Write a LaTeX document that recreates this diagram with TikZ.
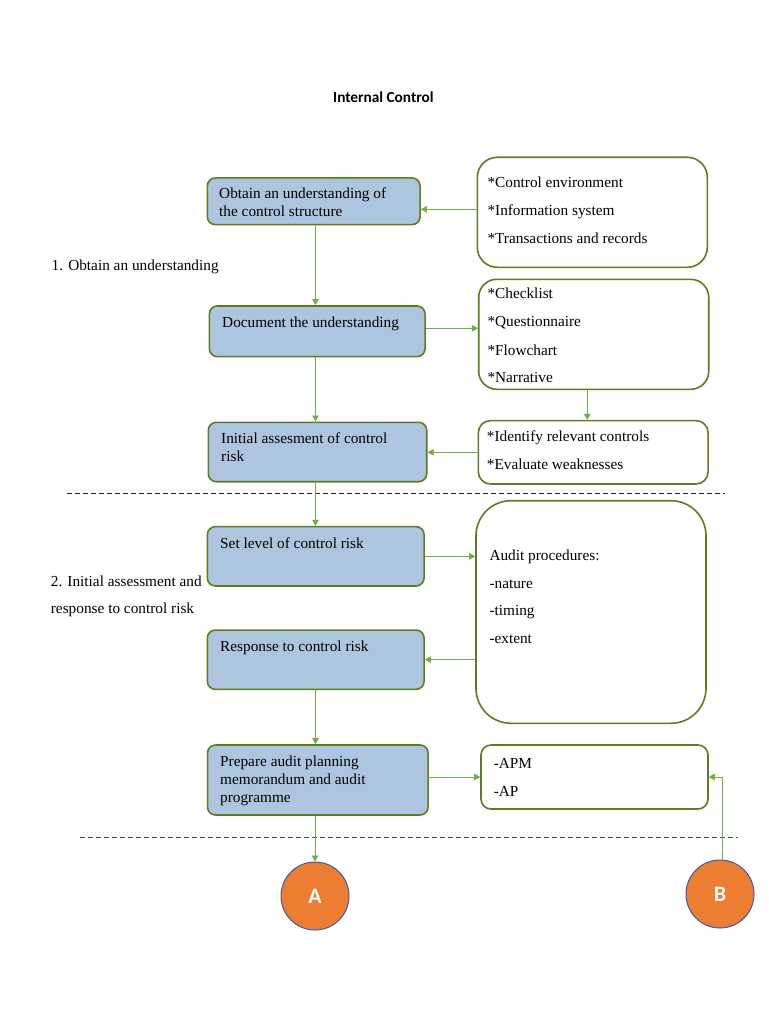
\documentclass[tikz,border=0pt]{standalone}
\usepackage{fontspec}
\setmainfont{Liberation Serif}
\newfontfamily\calibri{Carlito}
\usetikzlibrary{arrows.meta}
\definecolor{boxblue}{HTML}{ADC5DE}
\definecolor{boxedge}{HTML}{5E7D1E}
\definecolor{arrowgreen}{HTML}{70AD47}
\definecolor{circorange}{HTML}{ED7D31}
\definecolor{circedge}{HTML}{3A5CA8}
\begin{document}
\begin{tikzpicture}[x=1pt,y=-1pt,
  bluebox/.style={draw=boxedge, fill=boxblue, line width=1.6pt, rounded corners=8pt, inner sep=0pt},
  whitebox/.style={draw=boxedge, fill=white, line width=1.6pt, inner sep=0pt},
  txt/.style={anchor=base west, inner sep=0pt, yshift=-1pt, font=\fontsize{15.3}{18}\selectfont},
  conn/.style={draw=arrowgreen, line width=0.9pt, -{Triangle[length=6pt,width=6.5pt]}},
  circ/.style={circle, fill=circorange, draw=circedge, line width=1pt, minimum size=68pt, inner sep=0pt, text=white, font=\calibri\bfseries\fontsize{22}{24}\selectfont},
  sep/.style={dash pattern=on 5pt off 3pt, line width=0.8pt}
]
\useasboundingbox (0,0) rectangle (768,1024);
\fill[white] (0,0) rectangle (768,1024);

% title
\node[anchor=base west, inner sep=0pt, font=\calibri\bfseries\fontsize{15.3}{18}\selectfont] (title) at (333,102.5) {Internal Control};

% left section labels
\node[txt] (sec1) at (51.5,269.3) {1. Obtain an understanding};
\node[txt] (sec2a) at (50.7,585) {2. Initial assessment and};
\node[txt] (sec2b) at (50.7,612.7) {response to control risk};

% blue boxes
\node[bluebox, minimum width=212.7pt, minimum height=46.7pt] (b1) at (313.7,201.3) {};
\node[bluebox, minimum width=215.7pt, minimum height=50.7pt] (b2) at (317.2,331.3) {};
\node[bluebox, minimum width=218.4pt, minimum height=59.4pt] (b3) at (317.5,452) {};
\node[bluebox, minimum width=216.7pt, minimum height=59.3pt] (b4) at (315.7,556.3) {};
\node[bluebox, minimum width=216.7pt, minimum height=59.3pt] (b5) at (315.7,659.7) {};
\node[bluebox, minimum width=220.5pt, minimum height=70pt] (b6) at (317.8,780) {};

\node[txt] (b1t1) at (219,197.5) {Obtain an understanding of};
\node[txt] (b1t2) at (219,215.5) {the control structure};
\node[txt] (b2t1) at (222,326.7) {Document the understanding};
\node[txt] (b3t1) at (221,442.7) {Initial assesment of control};
\node[txt] (b3t2) at (221,460.7) {risk};
\node[txt] (b4t1) at (220,547.3) {Set level of control risk};
\node[txt] (b5t1) at (220,650.7) {Response to control risk};
\node[txt] (b6t1) at (220,765.5) {Prepare audit planning};
\node[txt] (b6t2) at (220,783.5) {memorandum and audit};
\node[txt] (b6t3) at (220,801.5) {programme};

% white boxes
\node[whitebox, rounded corners=20pt, minimum width=230pt, minimum height=110pt] (r1) at (592.3,212.3) {};
\node[whitebox, rounded corners=18pt, minimum width=230pt, minimum height=110pt] (r2) at (593.7,334.3) {};
\node[whitebox, rounded corners=12pt, minimum width=229.7pt, minimum height=63.3pt] (r3) at (593.2,452.3) {};
\node[whitebox, rounded corners=35pt, minimum width=230pt, minimum height=222.6pt] (r4) at (591,612) {};
\node[whitebox, rounded corners=10pt, minimum width=227pt, minimum height=64pt] (r5) at (594.5,777) {};

\node[txt] (r1t1) at (487.3,186.7) {*Control environment};
\node[txt] (r1t2) at (487.3,214.3) {*Information system};
\node[txt] (r1t3) at (487.3,242.7) {*Transactions and records};
\node[txt] (r2t1) at (487.3,297.7) {*Checklist};
\node[txt] (r2t2) at (487.3,325.7) {*Questionnaire};
\node[txt] (r2t3) at (487.3,354) {*Flowchart};
\node[txt] (r2t4) at (487.3,381.7) {*Narrative};
\node[txt] (r3t1) at (486.7,440.7) {*Identify relevant controls};
\node[txt] (r3t2) at (486.7,468.3) {*Evaluate weaknesses};
\node[txt] (r4t1) at (489.3,559.3) {Audit procedures:};
\node[txt] (r4t2) at (489.3,587) {-nature};
\node[txt] (r4t3) at (489.3,614.7) {-timing};
\node[txt] (r4t4) at (489.3,642.3) {-extent};
\node[txt] (r5t1) at (493.6,767.3) {-APM};
\node[txt] (r5t2) at (493.6,795.7) {-AP};

% circles
\node[circ] (A) at (315,896) {A};
\node[circ] (B) at (720,894) {B};

% separators
\draw[sep, draw=black!85] (67,493.3) -- (725,493.3);
\draw[sep, draw=black!70] (80,837.5) -- (738,837.5);

% connectors
\coordinate (spine) at (315.5,0);
\coordinate (rspine) at (587.3,0);
\draw[conn] ([yshift=3pt]r1.west) -- ([yshift=3pt]r1.west -| b1.east);
\draw[conn] (b1.south -| spine) -- (b2.north -| spine);
\draw[conn] ([yshift=3pt]b2.east) -- ([yshift=3pt]b2.east -| r2.west);
\draw[conn] (b2.south -| spine) -- (b3.north -| spine);
\draw[conn] (r2.south -| rspine) -- (r3.north -| rspine);
\draw[conn] (r3.west) -- (r3.west -| b3.east);
\draw[conn] (b3.south -| spine) -- (b4.north -| spine);
\draw[conn] (b4.east) -- (b4.east -| r4.west);
\draw[conn] (b5.east -| r4.west) -- (b5.east);
\draw[conn] (b5.south -| spine) -- (b6.north -| spine);
\draw[conn] (r5.west -| b6.east) -- (r5.west);
\draw[conn] (b6.south -| A.north) -- (A.north);
\draw[conn] ([xshift=2pt]B.north) |- (r5.east);
\end{tikzpicture}
\end{document}
